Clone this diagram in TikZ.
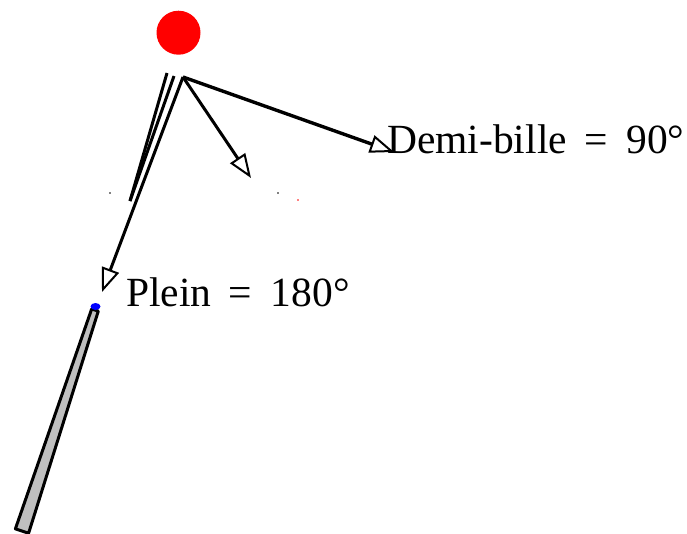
\documentclass[tikz,border=0pt]{standalone}
\usepackage{fontspec}
\setmainfont{Liberation Serif}
\usetikzlibrary{arrows.meta}
\begin{document}
\begin{tikzpicture}[x=1pt,y=-1pt,
  shot/.style={line width=3pt,-{Triangle[open,length=24pt,width=18pt,line width=2pt]}},
  ray/.style={line width=3pt},
  lbl/.style={anchor=base west,inner sep=0pt,font=\fontsize{41.5}{45}\selectfont}]
\useasboundingbox (0,0) rectangle (687,533);
% ball
\fill[red] (178.5,32.7) circle (22);
% points
\coordinate (v) at (183,77);
\coordinate (a1) at (167,73);
\coordinate (a2) at (174,76);
\coordinate (m) at (130,201);
\coordinate (demi) at (394,152);
\coordinate (mid) at (251,178);
\coordinate (plein) at (102,292);
% rays
\draw[ray] (a1) -- (m);
\draw[ray] (a2) -- (m);
\draw[shot] (v) -- (plein);
\draw[shot] (v) -- (mid);
\draw[shot,line width=3.4pt] (v) -- (demi);
% specks
\fill[black] (110,193) circle (0.8);
\fill[black] (278,193) circle (0.8);
\fill[red] (298,200) circle (0.8);
% labels
\node[lbl] (tdemi) at (387,153) {Demi-bille\hspace{0.42em}=\hspace{0.45em}90°};
\node[lbl] (tplein) at (126,306.7) {Plein\hspace{0.42em}=\hspace{0.45em}180°};
% cue
\draw[line width=3pt,fill=black!25,line join=round] (91.7,308.9) -- (98.3,311.1) -- (28.6,533.2) -- (15.4,528.8) -- cycle;
\fill[blue] (95.5,306.5) ellipse (5 and 3.5);
\end{tikzpicture}
\end{document}
